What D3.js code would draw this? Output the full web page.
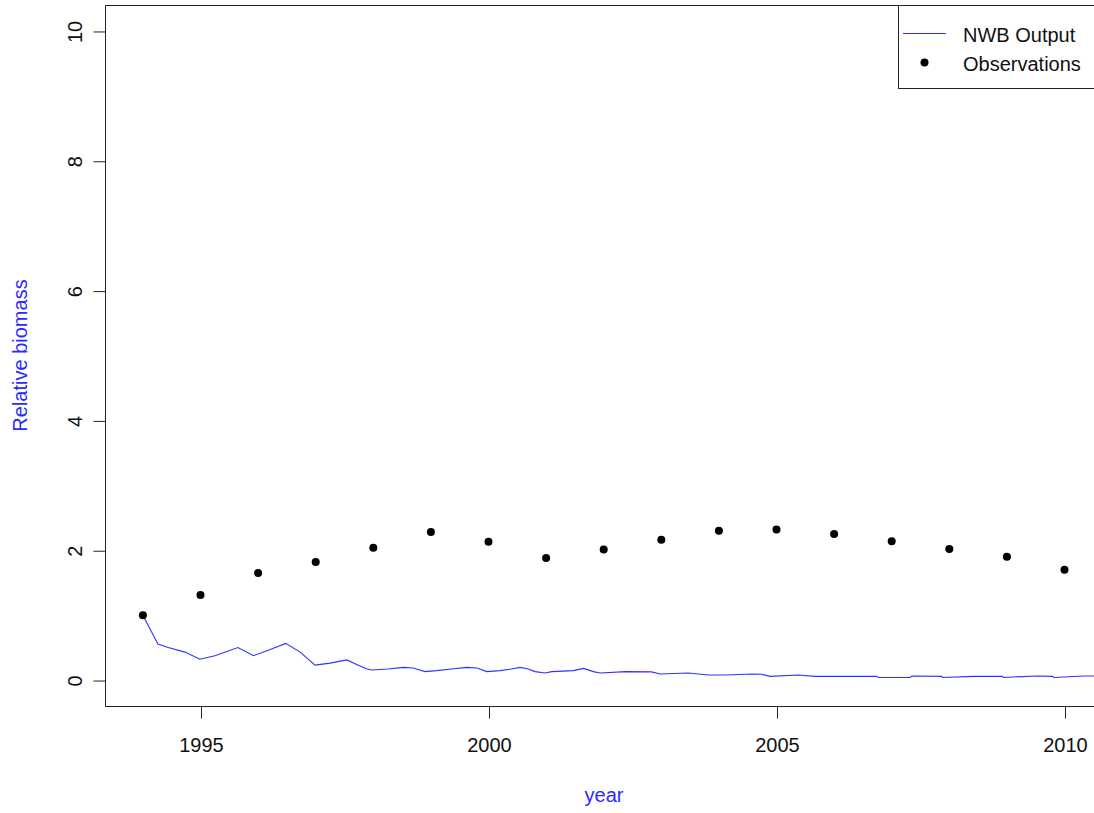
<!DOCTYPE html>
<html>
<head>
<meta charset="utf-8">
<script src="https://cdn.jsdelivr.net/npm/d3@7"></script>
<style>
  html, body { margin: 0; padding: 0; background: #fff; overflow: hidden; }
  svg { display: block; font-family: "Liberation Sans", Arial, sans-serif; }
</style>
</head>
<body>
<svg id="chart" width="1094" height="813"></svg>
<script>
// Model output (NWB), sampled at sub-annual time steps
const modelYears = [1994.00, 1994.26, 1994.44, 1994.73, 1994.99, 1995.25, 1995.65, 1995.92,
  1996.21, 1996.48, 1996.73, 1996.99, 1997.25, 1997.54, 1997.71, 1997.89, 1997.97,
  1998.26, 1998.52, 1998.69, 1998.90, 1999.10, 1999.36, 1999.62, 1999.80, 1999.97,
  2000.20, 2000.40, 2000.55, 2000.69, 2000.81, 2000.98, 2001.10, 2001.47, 2001.65,
  2001.82, 2001.94, 2002.38, 2002.83, 2002.98, 2003.47, 2003.64, 2003.82, 2004.11,
  2004.57, 2004.74, 2004.89, 2005.38, 2005.67, 2006.74, 2006.77, 2007.32, 2007.35,
  2007.87, 2007.88, 2008.42, 2008.92, 2008.94, 2009.52, 2009.79, 2009.81, 2010.35, 2010.90];
const modelBiomass = [1.00, 0.556, 0.50, 0.43, 0.32, 0.375, 0.50, 0.375,
  0.47, 0.565, 0.43, 0.23, 0.26, 0.31, 0.24, 0.17, 0.155,
  0.17, 0.195, 0.185, 0.13, 0.145, 0.17, 0.195, 0.185, 0.13,
  0.145, 0.17, 0.195, 0.17, 0.13, 0.108, 0.13, 0.145, 0.18,
  0.13, 0.108, 0.13, 0.125, 0.093, 0.108, 0.093, 0.077, 0.077,
  0.093, 0.09, 0.056, 0.077, 0.056, 0.056, 0.04, 0.04, 0.062,
  0.056, 0.04, 0.056, 0.056, 0.04, 0.062, 0.056, 0.04, 0.062, 0.062];

// Annual observations
const obsYears = [1994, 1995, 1996, 1997, 1998, 1999, 2000, 2001, 2002,
  2003, 2004, 2005, 2006, 2007, 2008, 2009, 2010];
const obsBiomass = [1.00, 1.31, 1.65, 1.82, 2.04, 2.28, 2.13, 1.88, 2.01,
  2.16, 2.30, 2.32, 2.25, 2.14, 2.02, 1.90, 1.70];

const xTicks = [1995, 2000, 2005, 2010];
const yTicks = [0, 2, 4, 6, 8, 10];
const legendLabels = ["NWB Output", "Observations"];

const svg = d3.select("#chart");
const plot = { left: 105, top: 5, right: 1103, bottom: 706 };

// Scales: padded ranges around the data, like base R plots
const pxPerYear = 57.6;
const x = d3.scaleLinear()
  .domain([1993.342, 1993.342 + (plot.right - plot.left) / pxPerYear])
  .range([plot.left, plot.right]);
const y = d3.scaleLinear().domain([-0.4, 10.4]).range([plot.bottom, plot.top]);

const fontSize = 20;
const lineBlue = "#3030ff";

svg.append("clipPath").attr("id", "plot-clip")
  .append("rect")
  .attr("x", plot.left).attr("y", plot.top)
  .attr("width", plot.right - plot.left).attr("height", plot.bottom - plot.top);

// Model line
const series = modelYears.map((t, i) => [t, modelBiomass[i]]);
svg.append("path")
  .datum(series)
  .attr("clip-path", "url(#plot-clip)")
  .attr("fill", "none")
  .attr("stroke", lineBlue)
  .attr("stroke-width", 1.1)
  .attr("d", d3.line().x(d => x(d[0])).y(d => y(d[1])));

// Observation points
svg.append("g")
  .selectAll("circle")
  .data(obsYears.map((t, i) => [t, obsBiomass[i]]))
  .join("circle")
  .attr("cx", d => x(d[0]))
  .attr("cy", d => y(d[1]))
  .attr("r", 4)
  .attr("fill", "#000");

// Plot frame
svg.append("rect")
  .attr("x", plot.left + 0.5).attr("y", plot.top + 0.5)
  .attr("width", plot.right - plot.left).attr("height", plot.bottom - plot.top)
  .attr("fill", "none").attr("stroke", "#222").attr("stroke-width", 1);

// X axis
const xAxis = d3.axisBottom(x).tickValues(xTicks).tickFormat(d3.format("d")).tickSize(12).tickPadding(19);
const gx = svg.append("g").attr("transform", `translate(0.5,${plot.bottom + 0.5})`).call(xAxis);
gx.select(".domain").remove();
gx.selectAll(".tick line").attr("stroke", "#222");
gx.selectAll(".tick text")
  .attr("fill", "#111")
  .attr("font-size", fontSize)
  .attr("font-family", "Liberation Sans, Arial, sans-serif");

// Y axis with rotated tick labels
const yAxis = d3.axisLeft(y).tickValues(yTicks).tickFormat(d3.format("d")).tickSize(12).tickPadding(0);
const gy = svg.append("g").attr("transform", `translate(${plot.left + 0.5},0.5)`).call(yAxis);
gy.select(".domain").remove();
gy.selectAll(".tick line").attr("stroke", "#222");
gy.selectAll(".tick text")
  .attr("x", null).attr("dy", null)
  .attr("text-anchor", "middle")
  .attr("transform", "translate(-31,0) rotate(-90)")
  .attr("dy", "0.35em")
  .attr("fill", "#111")
  .attr("font-size", fontSize)
  .attr("font-family", "Liberation Sans, Arial, sans-serif");

// Axis titles
svg.append("text")
  .attr("x", (plot.left + plot.right) / 2).attr("y", 802)
  .attr("text-anchor", "middle")
  .attr("fill", "#2a2aff")
  .attr("font-size", fontSize)
  .text("year");

svg.append("text")
  .attr("transform", `translate(27,${(plot.top + plot.bottom) / 2}) rotate(-90)`)
  .attr("text-anchor", "middle")
  .attr("fill", "#2a2aff")
  .attr("font-size", fontSize)
  .text("Relative biomass");

// Legend
const legend = svg.append("g");
legend.append("rect")
  .attr("x", 898.5).attr("y", plot.top + 0.5)
  .attr("width", 220).attr("height", 83)
  .attr("fill", "#fff").attr("stroke", "#222");
legend.append("line")
  .attr("x1", 903).attr("x2", 946).attr("y1", 33.5).attr("y2", 33.5)
  .attr("stroke", lineBlue).attr("stroke-width", 1.1);
legend.append("circle").attr("cx", 924.5).attr("cy", 62.5).attr("r", 4).attr("fill", "#000");
legend.selectAll("text")
  .data(legendLabels)
  .join("text")
  .attr("x", 963)
  .attr("y", (d, i) => 35 + i * 28.5)
  .attr("dy", "0.35em")
  .attr("fill", "#111")
  .attr("font-size", fontSize)
  .text(d => d);
</script>
</body>
</html>
